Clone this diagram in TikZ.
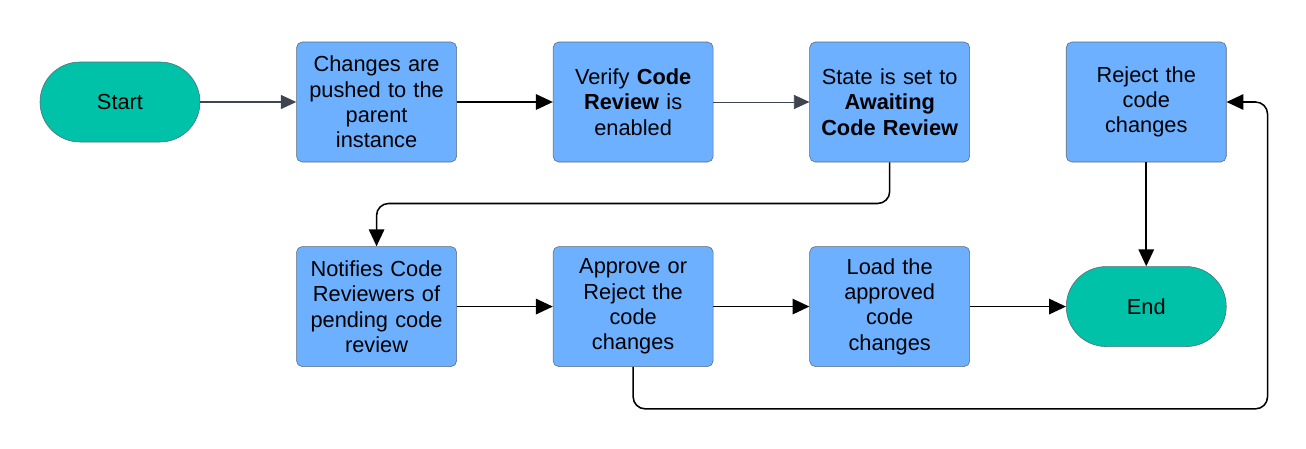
\documentclass[tikz,border=0pt]{standalone}
\usepackage{fontspec}
\setmainfont{Liberation Sans}
\usetikzlibrary{positioning,arrows.meta}
\definecolor{stepblue}{HTML}{6CB0FF}
\definecolor{termgreen}{HTML}{00C2A8}
\definecolor{edgegray}{HTML}{5B6878}
\definecolor{linkgray}{HTML}{3E4550}
\begin{document}
\begin{tikzpicture}[
    node distance=2.4cm,
    stepbox/.style={rectangle, draw=edgegray, fill=stepblue, rounded corners=4pt,
        minimum width=4cm, minimum height=3cm, text width=3.7cm, align=center,
        font=\fontsize{15.5}{18}\selectfont},
    term/.style={rectangle, draw=edgegray, fill=termgreen, rounded corners=1cm,
        minimum width=4cm, minimum height=2cm, font=\fontsize{15.5}{18}\selectfont},
    arrow/.style={-{Triangle[length=12pt,width=11pt]}, line width=1.1pt, black},
    softarrow/.style={-{Triangle[length=11pt,width=10pt]}, line width=0.8pt, linkgray}
]
    \useasboundingbox (0,0) rectangle (32.65,-11.2);

    % top row
    \node[term] (Start) at (3.0,-2.55) {Start};
    \node[stepbox, right=of Start] (Push) {Changes are\\pushed to the\\parent\\instance};
    \node[stepbox, right=of Push] (Verify) {Verify \textbf{Code}\\\textbf{Review} is\\enabled};
    \node[stepbox, right=of Verify] (Await) {State is set to\\\textbf{Awaiting}\\\textbf{Code Review}};
    \node[stepbox, right=of Await] (Reject) {Reject the\\code\\changes};

    % bottom row
    \node[stepbox, below=2.1cm of Push] (Notify) {Notifies Code\\Reviewers of\\pending code\\review};
    \node[stepbox, right=of Notify] (Decide) {Approve or\\Reject the\\code\\changes};
    \node[stepbox, right=of Decide] (Load) {Load the\\approved\\code\\changes};
    \node[term, right=of Load] (End) {End};

    \coordinate[right=1.025cm of Reject.east] (loop);

    \draw[softarrow] (Start) -- (Push);
    \draw[arrow] (Push) -- (Verify);
    \draw[softarrow, line width=0.5pt] (Verify) -- (Await);
    \draw[arrow, rounded corners=0.3cm] (Await.south) -- ++(0,-1.03) -| (Notify.north);
    \draw[arrow] (Notify) -- (Decide);
    \draw[arrow] (Decide) -- (Load);
    \draw[arrow] (Load) -- (End);
    \draw[arrow, rounded corners=0.3cm] (Decide.south) -- ++(0,-1.05) -| (loop) -- (Reject.east);
    \draw[arrow] (Reject) -- (End);
\end{tikzpicture}
\end{document}
